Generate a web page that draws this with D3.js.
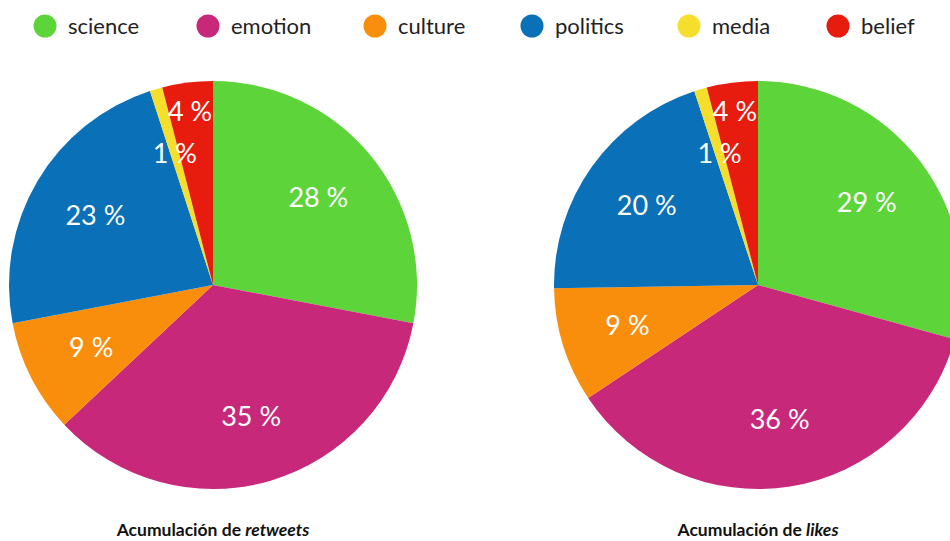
<!DOCTYPE html>
<html>
<head>
<meta charset="utf-8">
<script src="https://cdn.jsdelivr.net/npm/d3@7"></script>
<style>
  html, body { margin: 0; padding: 0; background: #fff; }
  svg { display: block; }
</style>
</head>
<body>
<svg id="chart" width="950" height="541"></svg>
<script>
// Topic categories, in clockwise slice order starting at 12 o'clock
const categories = ["science", "emotion", "culture", "politics", "media", "belief"];
const colors = ["#5dd43a", "#c8287a", "#f98e0c", "#0a70b8", "#f5df2c", "#e81c0e"];

// Share of each topic (%)
const retweetValues = [28, 35, 9, 23, 1, 4];
const likeValues = [29, 36, 9, 20, 1, 4];

const titles = [
  { plain: "Acumulación de ", italic: "retweets" },
  { plain: "Acumulación de ", italic: "likes" }
];

const svg = d3.select("#chart");
const color = d3.scaleOrdinal().domain(categories).range(colors);

// Legend row
const legendX = [45, 208, 375, 532, 689, 838];
const legend = svg.append("g");
categories.forEach((c, i) => {
  const g = legend.append("g").attr("transform", `translate(${legendX[i]},26)`);
  g.append("circle").attr("r", 11.5).attr("fill", color(c));
  g.append("text")
    .attr("x", 23).attr("y", 8)
    .attr("font-family", "Lato, 'Open Sans', sans-serif")
    .attr("font-size", 22)
    .attr("fill", "#222")
    .text(c);
});

const radius = 204;
const pie = d3.pie().sort(null).value(d => d.value);
const arc = d3.arc().innerRadius(0).outerRadius(radius);

function drawPie(values, cx, cy, title) {
  const data = categories.map((c, i) => ({ cat: c, value: values[i] }));
  const g = svg.append("g").attr("transform", `translate(${cx},${cy})`);
  const arcs = pie(data);
  g.selectAll("path").data(arcs).join("path")
    .attr("d", arc)
    .attr("fill", d => color(d.data.cat));

  // Percentage labels; the thin "belief" slice label sits further out
  g.selectAll("text.lbl").data(arcs).join("text")
    .attr("class", "lbl")
    .attr("transform", d => {
      const r = d.data.cat === "belief" ? radius * 0.855 : radius * 0.67;
      const a = (d.startAngle + d.endAngle) / 2;
      const dx = d.data.cat === "belief" ? -1 : 0;
      return `translate(${r * Math.sin(a) + dx},${-r * Math.cos(a)})`;
    })
    .attr("text-anchor", "middle")
    .attr("dy", "0.35em")
    .attr("font-family", "Lato, 'Open Sans', sans-serif")
    .attr("font-size", 27)
    .attr("fill", "#fff")
    .text(d => `${d.data.value} %`);

  const t = svg.append("text")
    .attr("x", cx).attr("y", 536)
    .attr("text-anchor", "middle")
    .attr("font-family", "Lato, 'Open Sans', sans-serif")
    .attr("font-size", 17.5)
    .attr("font-weight", "bold")
    .attr("fill", "#111");
  t.append("tspan").text(title.plain);
  t.append("tspan").attr("font-style", "italic").text(title.italic);
}

drawPie(retweetValues, 213, 285, titles[0]);
drawPie(likeValues, 758, 285, titles[1]);
</script>
</body>
</html>
